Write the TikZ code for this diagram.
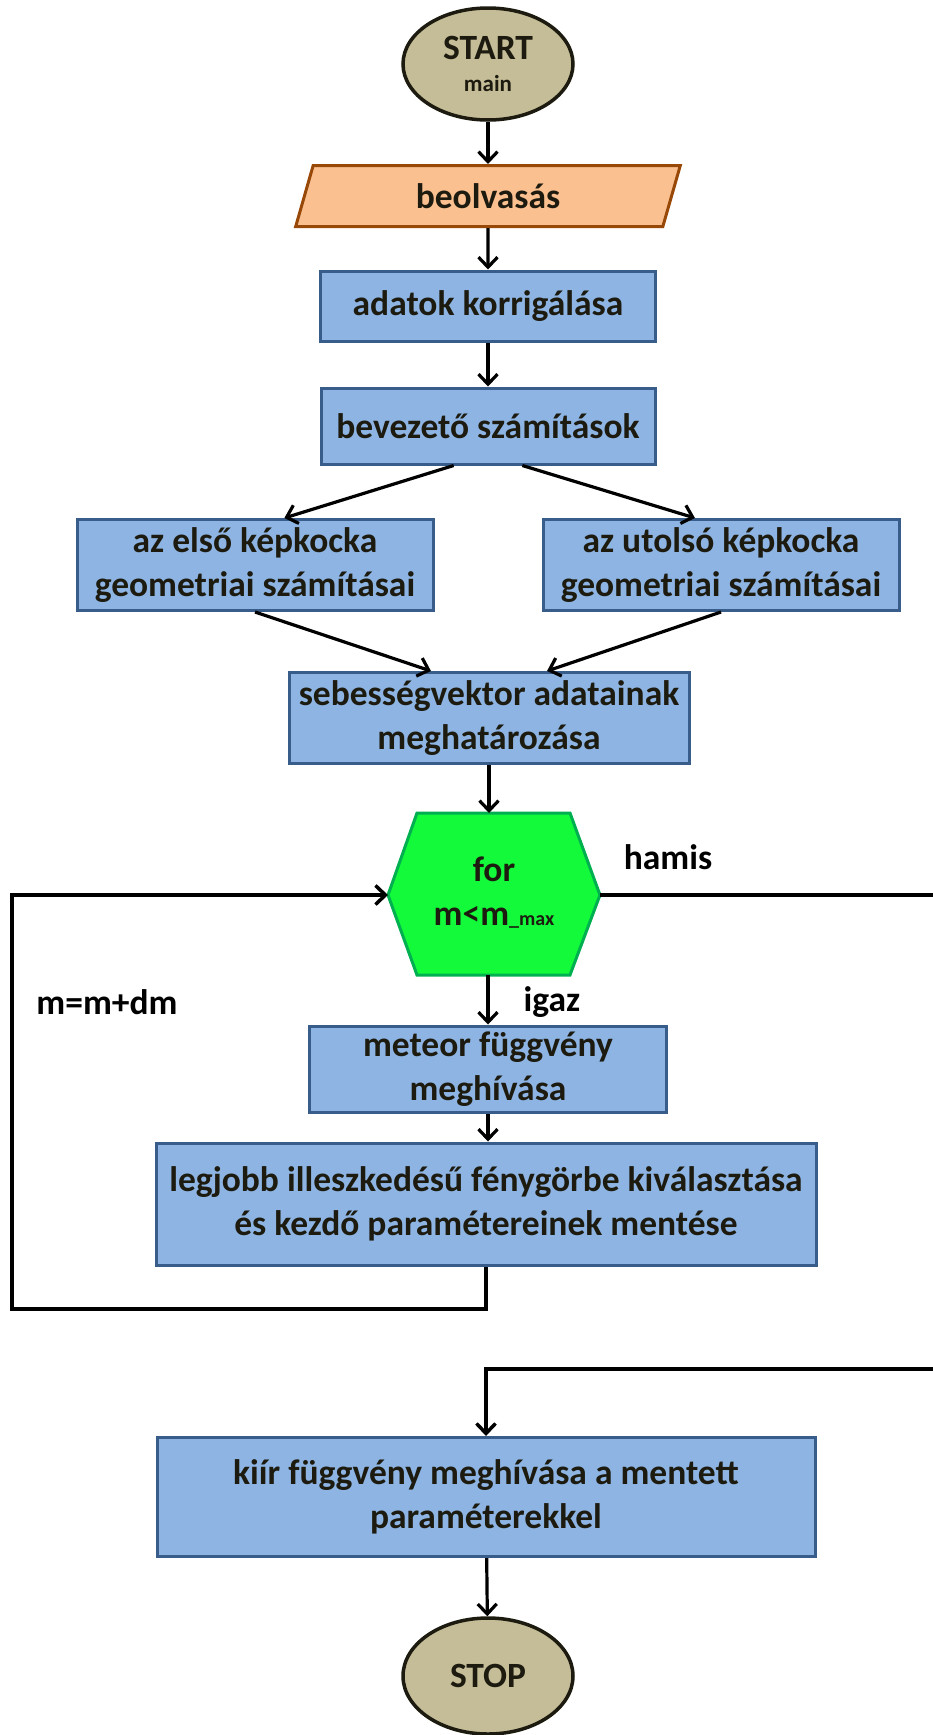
\documentclass[tikz,border=0pt]{standalone}
\usepackage{fontspec}
\setmainfont{Carlito}
\usetikzlibrary{shapes.geometric,arrows.meta}

\definecolor{tanfill}{RGB}{196,189,151}
\definecolor{tanline}{RGB}{29,27,16}
\definecolor{orangefill}{RGB}{250,192,144}
\definecolor{orangeline}{RGB}{152,72,7}
\definecolor{boxfill}{RGB}{141,180,227}
\definecolor{boxline}{RGB}{56,93,138}
\definecolor{hexfill}{RGB}{18,250,58}
\definecolor{hexline}{RGB}{0,176,80}
\definecolor{txt}{RGB}{29,27,16}

\tikzset{
    plain/.style={font=\fontsize{35.5}{44}\selectfont\bfseries, text=txt, align=center, inner sep=0pt},
    terminal/.style={plain, ellipse, draw=tanline, fill=tanfill, line width=3.5pt, minimum width=170, minimum height=112},
    inout/.style={plain, trapezium, trapezium left angle=74, trapezium right angle=106, draw=orangeline, fill=orangefill, line width=3pt, minimum width=269, minimum height=61},
    process/.style={plain, rectangle, draw=boxline, fill=boxfill, line width=3pt},
    decision/.style={draw=hexline, fill=hexfill, line width=3pt},
    note/.style={font=\fontsize{35.5}{44}\selectfont\bfseries, text=black, inner sep=0pt},
    flow/.style={line width=3.2pt, -{Straight Barb[length=10pt,width=19pt]}},
    back/.style={line width=3.5pt, line join=miter}
}

\begin{document}
\begin{tikzpicture}[x=1pt,y=-1pt]
    \useasboundingbox (0,0) rectangle (933,1735);
    % Draw nodes
    \node[terminal] (start) at (488,64) {START\\[-12pt]{\fontsize{23}{26}\selectfont main}};
    \node[inout] (beolv) at (488,196) {beolvasás};
    \node[process, minimum width=335, minimum height=70] (adat) at (488,306) {adatok korrigálása};
    \node[process, minimum width=334, minimum height=76] (bevez) at (488,426) {bevezető számítások};
    \node[process, minimum width=356, minimum height=91] (elso) at (255,565) {az első képkocka\\geometriai számításai};
    \node[process, minimum width=356, minimum height=91] (utolso) at (721,565) {az utolsó képkocka\\geometriai számításai};
    \node[process, minimum width=400, minimum height=91] (sebes) at (489,718) {sebességvektor adatainak\\meghatározása};

    % Draw loop hexagon
    \draw[decision] (388,895) coordinate (hexW) -- (417,813) -- (570,813) -- (600,895) coordinate (hexE) -- (570,975) -- (417,975) -- cycle;
    \coordinate (hexN) at (494,813);
    \coordinate (hexS) at (494,975);
    \node[plain] (ciklus) at (494,893) {for\\m<m{\fontsize{20}{20}\selectfont\_max}};

    \node[process, minimum width=357, minimum height=86] (meteor) at (488,1069) {meteor függvény\\meghívása};
    \node[process, minimum width=660, minimum height=122] (legjobb) at (486,1204) {legjobb illeszkedésű fénygörbe kiválasztása\\és kezdő paramétereinek mentése};
    \node[process, minimum width=658, minimum height=119] (kiir) at (486,1497) {kiír függvény meghívása a mentett\\paraméterekkel};
    \node[terminal, minimum height=116] (stop) at (488,1676) {STOP};

    % Label branches
    \node[note] (hamis) at (668,857) {hamis};
    \node[note] (igaz) at (552,1002) {igaz};
    \node[note] (mdm) at (107,1002) {m=m+dm};

    % Loop corners
    \coordinate (balalso) at (12,1309);
    \coordinate (jobbfelso) at (945,895);
    \coordinate (jobbalso) at (945,1369);

    % Draw connectors
    \draw[flow] (start) -- (beolv);
    \draw[flow] (beolv) -- (adat);
    \draw[flow] (adat) -- (bevez);
    \draw[flow] (bevez.229) -- (elso.58);
    \draw[flow] (bevez.311) -- (utolso.119);
    \draw[flow] (elso.south) -- (sebes.141);
    \draw[flow] (utolso.south) -- (sebes.39);
    \draw[flow] (sebes.south) -- (sebes.south |- hexN);
    \draw[flow] (hexS -| meteor.north) -- (meteor.north); % igaz
    \draw[flow] (meteor.south) -- (meteor.south |- legjobb.north);
    \draw[flow, back] (legjobb.south) |- (balalso) |- (hexW); % m=m+dm
    \draw[flow, back] (hexE) -- (jobbfelso) -- (jobbalso) -| (kiir.north); % hamis
    \draw[flow] (kiir) -- (stop);
\end{tikzpicture}
\end{document}
